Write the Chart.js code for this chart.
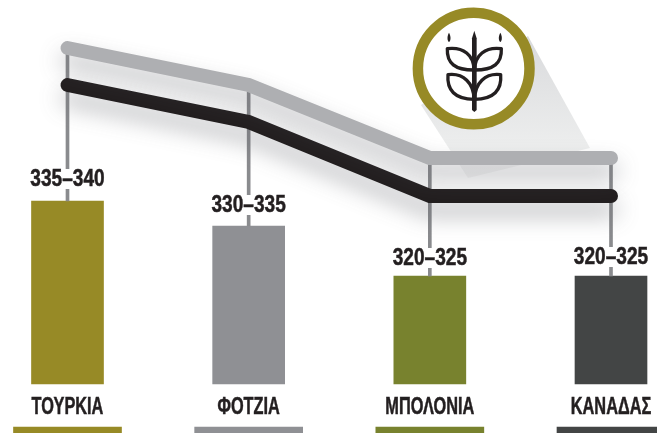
<!DOCTYPE html>
<html>
<head>
<meta charset="utf-8">
<style>
    html, body { margin: 0; padding: 0; background: #fff; overflow: hidden; }
    #wrap { position: relative; width: 657px; height: 433px; }
    #wrap svg, #wrap canvas { position: absolute; left: 0; top: 0; }
</style>
</head>
<body>
<div id="wrap">
    <!-- wheat badge, sits under the canvas -->
    <svg width="657" height="433" viewBox="0 0 657 433">
        <defs>
            <linearGradient id="fade" x1="0" y1="0" x2="0" y2="1">
                <stop offset="0" stop-color="#d9dadc"/>
                <stop offset="0.75" stop-color="#eceded"/>
                <stop offset="1" stop-color="#f6f6f6"/>
            </linearGradient>
        </defs>
        <polygon points="528,36 590,148 468,178 421,105" fill="url(#fade)"/>
        <circle cx="473.7" cy="68.5" r="55.8" fill="#fff" stroke="#978a26" stroke-width="10.5"/>
        <g transform="translate(400,0) scale(0.3333)" fill="none" stroke="#231f20" stroke-width="10" stroke-linejoin="round">
            <path d="M223 92 L230 115 L230 330 L223 336 L216 330 L216 115 Z" fill="#231f20" stroke="none"/>
            <path d="M222 210 C165 210 140 190 142 146 C190 140 222 165 222 210 Z"/>
            <path d="M224 210 C281 210 306 190 304 146 C256 140 224 165 224 210 Z"/>
            <path d="M222 298 C165 298 140 270 144 224 C190 218 222 250 222 298 Z"/>
            <path d="M224 298 C281 298 306 270 302 224 C256 218 224 250 224 298 Z"/>
            <path d="M147 98 C153 108 153 122 147 126 C141 122 141 108 147 98 Z" fill="#231f20" stroke="none"/>
            <path d="M301 98 C307 108 307 122 301 126 C295 122 295 108 301 98 Z" fill="#231f20" stroke="none"/>
        </g>
    </svg>
    <canvas id="chart" width="657" height="433"></canvas>
</div>

<script src="https://cdn.jsdelivr.net/npm/chart.js@4"></script>
<script>
//========================= Chart data ===========================
var categories = ["ΤΟΥΡΚΙΑ", "ΦΟΤΖΙΑ", "ΜΠΟΛΟΝΙΑ", "ΚΑΝΑΔΑΣ"];
var rangeLabels = ["335-340", "330-335", "320-325", "320-325"];
var midValues = [337.5, 332.5, 322.5, 322.5];
var upperLine = [368.1, 360.7, 346.1, 346.1];
var lowerLine = [360.7, 353.3, 338.5, 338.5];
var barColors = ["#978a26", "#8f9094", "#78822e", "#434545"];

var axisMin = 291.1, axisMax = 377.7, barBase = 300.9, stripTop = 292.3;

//========================= Chart script ===========================
var lineShadow = {
    id: 'lineShadow',
    beforeDatasetDraw: function (chart, args) {
        if (chart.data.datasets[args.index].type !== 'line') return;
        var ctx = chart.ctx;
        ctx.save();
        ctx.shadowColor = 'rgba(90,92,100,0.42)';
        ctx.shadowBlur = 22;
        ctx.shadowOffsetY = 13;
    },
    afterDatasetDraw: function (chart, args) {
        if (chart.data.datasets[args.index].type !== 'line') return;
        chart.ctx.restore();
    },
};

// the installed fonts have no condensed cut, so squeeze the text sideways
function narrowText(ctx, text, px, py, squeeze) {
    ctx.save();
    ctx.translate(px, py);
    ctx.scale(squeeze, 1);
    ctx.fillText(text, 0, 0);
    ctx.strokeText(text, 0, 0);
    ctx.restore();
}

var textLabels = {
    id: 'textLabels',
    afterDatasetsDraw: function (chart) {
        var ctx = chart.ctx, x = chart.scales.x, y = chart.scales.y;
        var gaps = [22, 21, 18, 19];
        ctx.save();
        ctx.textAlign = 'center';
        ctx.textBaseline = 'middle';
        ctx.font = 'bold 23px "Liberation Sans"';
        ctx.strokeStyle = '#231f20';
        ctx.lineWidth = 0.5;
        categories.forEach(function (name, i) {
            var px = x.getPixelForValue(i);
            var top = y.getPixelForValue(midValues[i]);
            ctx.fillStyle = '#fff';
            ctx.fillRect(px - 38, top - gaps[i] - 10, 76, 20);
            ctx.fillStyle = '#231f20';
            narrowText(ctx, rangeLabels[i].replace('-', '–'), px, top - gaps[i] + 1, 0.83);
            narrowText(ctx, name, px, 408, 0.71);
        });
        ctx.restore();
    },
};

new Chart(document.getElementById('chart').getContext('2d'), {
    data: {
        labels: categories,
        datasets: [
            {
                type: 'line', data: lowerLine, order: 2,
                borderColor: '#231f20', borderWidth: 14, borderCapStyle: 'round',
                pointRadius: 0, tension: 0, clip: false,
            },
            {
                type: 'line', data: upperLine, order: 1,
                borderColor: '#aeafb2', borderWidth: 14, borderCapStyle: 'round',
                pointRadius: 0, tension: 0, clip: false,
            },
            {
                type: 'bar', order: 3, grouped: false, barThickness: 3, backgroundColor: '#8a8b8e', clip: false,
                data: midValues.map(function (v, i) { return [v, upperLine[i]]; }),
            },
            {
                type: 'bar', order: 4, grouped: false, barThickness: 72, backgroundColor: barColors, clip: false,
                data: midValues.map(function (v) { return [barBase, v]; }),
            },
            {
                type: 'bar', order: 5, grouped: false, barThickness: 108, backgroundColor: barColors, clip: false,
                data: midValues.map(function () { return [axisMin, stripTop]; }),
            },
        ],
    },
    options: {
        responsive: false,
        animation: false,
        layout: { padding: { left: 67.5, right: 46, top: 0, bottom: 0 } },
        scales: {
            x: { display: false, offset: false },
            y: { display: false, min: axisMin, max: axisMax },
        },
        plugins: { legend: { display: false }, tooltip: { enabled: false } },
    },
    plugins: [lineShadow, textLabels],
});
</script>
</body>
</html>
